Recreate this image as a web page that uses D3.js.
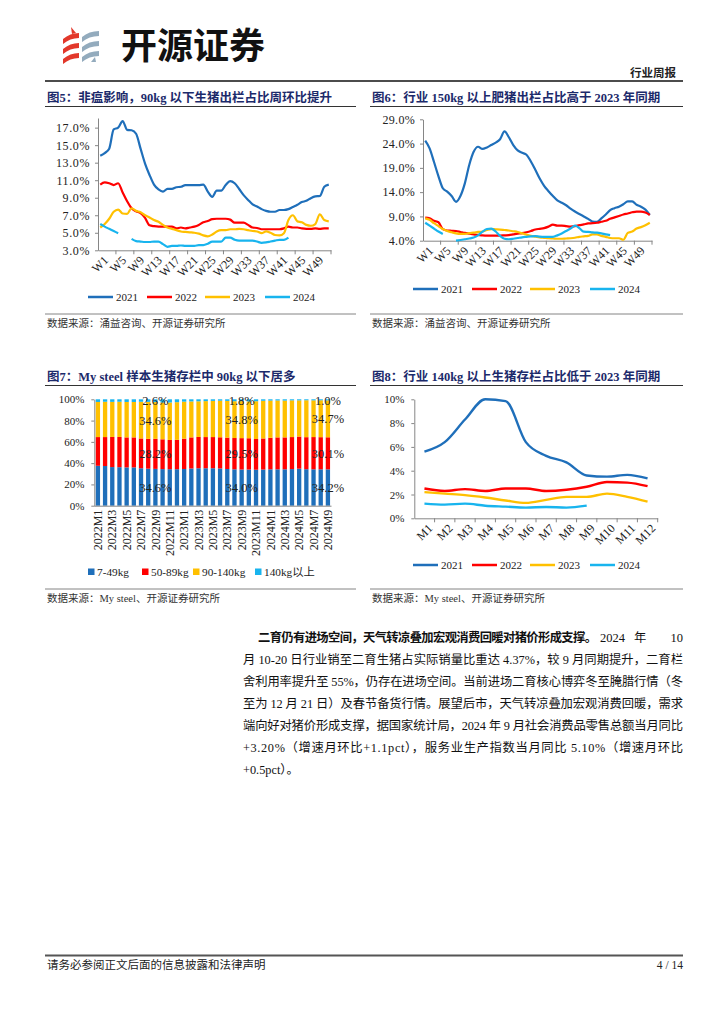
<!DOCTYPE html>
<html><head><meta charset="utf-8">
<script src="https://cdn.jsdelivr.net/npm/d3@7"></script>
<style>
body{margin:0;background:#fff;}
svg{display:block;}
</style></head><body>
<svg id="page" width="724" height="1024"></svg>
<script>
// ---------------- DATA ----------------
const seriesNames = ["2021","2022","2023","2024"];
const seriesColors = ["#1f6fba","#ff0000","#ffc000","#18b4ee"];
const weeks = d3.range(1,53).map(i => "W" + i);
const weekLabels = ["W1","W5","W9","W13","W17","W21","W25","W29","W33","W37","W41","W45","W49"];

// Fig 5: share of < 90kg hogs in slaughter (%)
const fig5_2021 = [13.8,14.1,14.6,16.8,17.0,17.75,16.75,16.7,16.3,14.6,12.9,11.6,10.5,9.95,9.7,10.0,10.0,10.2,10.25,10.45,10.45,10.45,10.45,10.5,9.7,9.1,9.8,9.8,10.45,10.9,10.65,10.0,9.3,8.75,8.25,8.0,7.7,7.5,7.4,7.4,7.6,7.6,7.7,7.95,8.2,8.5,8.65,8.95,9.15,9.2,10.25,10.5];
const fig5_2022 = [10.5,10.75,10.65,10.45,10.65,9.6,8.6,7.8,7.45,7.25,6.7,5.85,5.75,5.7,5.7,5.7,5.7,5.5,5.6,5.5,5.6,5.7,5.9,6.2,6.35,6.55,6.6,6.6,6.6,6.5,6.15,6.15,6.15,5.9,5.6,5.55,5.4,5.4,5.4,5.4,5.4,5.5,5.7,5.6,5.6,5.5,5.45,5.45,5.5,5.45,5.5,5.5];
const fig5_2023 = [5.6,6.0,6.6,7.4,7.65,7.2,7.15,7.8,7.5,7.35,7.0,6.75,6.45,6.25,5.9,5.6,5.45,5.3,5.15,5.1,5.05,5.0,4.9,4.7,4.6,4.8,5.15,5.3,5.3,5.4,5.4,5.45,5.4,5.3,5.2,5.15,4.95,5.15,5.0,4.75,4.7,4.95,6.45,7.0,6.3,6.2,5.9,5.8,6.0,7.1,6.45,6.3];
const fig5_2024 = [6.0,5.7,5.45,5.2,4.95,null,null,4.3,4.05,4.0,3.95,3.95,4.0,4.0,3.7,3.4,3.5,3.5,3.55,3.5,3.5,3.5,3.6,3.6,3.75,4.0,4.0,4.0,4.45,4.45,4.2,4.1,4.1,4.1,4.1,4.0,3.85,3.9,4.0,4.1,4.2,4.2,4.45,null,null,null,null,null,null,null,null,null];
const fig5_ticks = [3,5,7,9,11,13,15,17];

// Fig 6: share of > 150kg hogs in slaughter (%)
const fig6_2021 = [24.6,23.0,20.2,17.3,14.8,14.1,13.2,12.0,13.2,15.8,19.6,22.3,23.35,22.9,23.2,23.7,24.2,24.9,26.5,25.3,23.7,22.6,22.1,21.7,20.3,18.6,16.8,15.3,14.2,13.2,12.3,11.8,11.3,10.6,10.0,9.5,9.0,8.5,7.95,7.9,8.6,9.4,10.3,10.7,11.0,11.5,12.1,12.1,11.4,11.0,10.4,9.3];
const fig6_2022 = [8.75,8.6,8.1,7.8,6.4,6.1,6.05,6.0,5.8,5.6,5.45,5.3,5.2,5.1,5.05,5.05,5.05,5.05,5.1,5.15,5.3,5.45,5.55,5.75,6.0,6.3,6.45,6.6,6.9,7.3,7.1,7.1,7.0,6.9,7.0,7.2,7.35,7.55,7.6,7.7,7.9,8.1,8.5,8.8,9.1,9.4,9.6,9.85,10.0,10.0,9.8,9.3];
const fig6_2023 = [8.6,8.3,7.6,7.0,6.4,6.0,5.75,5.5,5.4,5.4,5.55,5.65,5.8,5.9,6.2,6.4,6.35,6.3,6.2,6.1,5.95,5.8,5.5,5.25,5.0,4.85,4.7,4.6,4.5,4.45,4.4,4.4,4.45,4.5,4.6,4.8,4.9,5.0,5.3,5.3,5.0,4.8,4.55,4.5,4.5,4.2,5.6,5.9,6.5,6.8,7.2,7.7];
const fig6_2024 = [7.7,7.1,6.5,5.9,5.4,null,null,4.0,4.15,4.3,4.45,4.65,5.1,5.85,6.4,6.5,5.9,5.0,4.4,4.3,4.4,4.55,4.7,4.8,4.9,4.95,4.85,4.8,4.8,4.8,5.1,5.5,6.0,6.5,7.1,6.6,5.85,5.8,5.7,5.65,5.5,5.3,5.15,null,null,null,null,null,null,null,null,null];
const fig6_ticks = [4,9,14,19,24,29];

// Fig 7: My steel sample inventory structure (%)
const fig7_months = ["2022M1","2022M2","2022M3","2022M4","2022M5","2022M6","2022M7","2022M8","2022M9","2022M10","2022M11","2022M12",
  "2023M1","2023M2","2023M3","2023M4","2023M5","2023M6","2023M7","2023M8","2023M9","2023M10","2023M11","2023M12",
  "2024M1","2024M2","2024M3","2024M4","2024M5","2024M6","2024M7","2024M8","2024M9"];
const fig7_keys = ["7-49kg","50-89kg","90-140kg","140kg以上"];
const fig7_colors = ["#1f6fba","#ff0000","#ffc000","#18b4ee"];
const fig7_w7_49   = [37.5,37.3,36.3,36.2,36.0,36.0,35.2,34.8,34.6,34.4,34.3,34.3,34.5,35.0,35.2,35.2,35.2,35.0,34.5,34.2,34.0,34.0,33.8,34.0,34.2,34.2,34.2,34.4,34.8,34.3,34.2,34.2,34.2];
const fig7_w50_89  = [27.0,27.2,28.3,28.4,28.2,28.2,28.0,28.0,28.2,28.0,27.5,27.6,28.5,29.2,29.4,29.3,29.3,29.3,29.5,29.4,29.5,29.4,28.9,29.2,29.6,30.0,30.0,30.1,30.2,30.1,30.3,30.2,30.1];
const fig7_w90_140 = [33.0,33.2,33.0,33.1,33.3,33.3,34.5,34.8,34.6,34.6,35.2,35.4,34.8,33.8,33.5,33.8,34.0,34.4,34.5,34.6,34.8,34.6,35.5,35.4,35.0,34.7,34.6,34.5,34.0,34.7,34.5,34.7,34.7];
const fig7_w140    = [2.5,2.3,2.4,2.3,2.5,2.5,2.3,2.4,2.6,3.0,3.0,2.7,2.2,2.0,1.9,1.7,1.5,1.3,1.5,1.8,1.8,2.0,1.8,1.4,1.2,1.1,1.2,1.0,1.0,0.9,1.0,0.9,1.0];
const fig7_labelMonths = ["2022M9","2023M9","2024M9"];
const fig7_ticks = [0,20,40,60,80,100];

// Fig 8: share of > 140kg hogs in inventory (%)
const months12 = ["M1","M2","M3","M4","M5","M6","M7","M8","M9","M10","M11","M12"];
const fig8_2021 = [5.6,6.4,8.3,10.0,9.85,6.4,5.25,4.7,3.6,3.5,3.65,3.35];
const fig8_2022 = [2.5,2.3,2.45,2.3,2.5,2.5,2.3,2.4,2.65,3.05,3.0,2.7];
const fig8_2023 = [2.2,2.07,1.95,1.75,1.5,1.3,1.55,1.8,1.8,2.07,1.8,1.4];
const fig8_2024 = [1.23,1.15,1.23,1.06,0.98,0.9,0.95,0.9,1.06];
const fig8_ticks = [0,2,4,6,8,10];

// ---------------- DRAWING ----------------
const svg = d3.select("#page");
const SERIF = '"Liberation Serif","Noto Sans CJK SC",serif';
const CJK = '"Noto Sans CJK SC","Liberation Serif",sans-serif';
const NAVY = "#1c2a6b";
const AXIS = "#868686";

// header
const logo = svg.append("g");
const red = "#e2382b", grey = "#93abbd";
[[0,0],[0,10],[0,20]].forEach(([dx,dy]) => {
  logo.append("path").attr("d", `M${63+dx},${39+dy} Q${70+dx},${33+dy} ${79+dx},${33+dy} L${79+dx},${38+dy} Q${70+dx},${38+dy} ${63+dx},${44+dy} Z`).attr("fill", red);
  logo.append("path").attr("d", `M${82+dx},${37+dy} Q${89+dx},${31+dy} ${99+dx},${31+dy} L${99+dx},${36+dy} Q${89+dx},${36+dy} ${82+dx},${42+dy} Z`).attr("fill", grey);
});
logo.append("path").attr("d","M71,27 L76,33 L72,34 Z").attr("fill",red);
logo.append("path").attr("d","M91,62 L95,57 L96,62 Z").attr("fill",grey);
svg.append("text").attr("x",121).attr("y",59).attr("font-family",CJK).attr("font-weight",700)
  .attr("font-size",36).attr("fill","#111").text("开源证券");
svg.append("text").attr("x",676).attr("y",77).attr("text-anchor","end").attr("font-family",CJK)
  .attr("font-weight",700).attr("font-size",11.5).attr("fill","#222").text("行业周报");
svg.append("line").attr("x1",45).attr("x2",683).attr("y1",81).attr("y2",81).attr("stroke","#111").attr("stroke-width",1.5);

function title(x, y, x2, txt){
  svg.append("text").attr("x",x).attr("y",y).attr("font-family",SERIF).attr("font-weight",700)
    .attr("font-size",12.5).attr("fill",NAVY).text(txt);
  svg.append("line").attr("x1",x-2).attr("x2",x2).attr("y1",y+4.5).attr("y2",y+4.5).attr("stroke","#333").attr("stroke-width",1);
}
function source(x, y, x2, txt){
  svg.append("line").attr("x1",x-2).attr("x2",x2).attr("y1",y-9).attr("y2",y-9).attr("stroke","#666").attr("stroke-width",0.8);
  svg.append("text").attr("x",x).attr("y",y+4).attr("font-family",SERIF).attr("font-size",10.5).attr("fill","#333").text(txt);
}

function styleAxis(sel){
  sel.select(".domain").attr("stroke",AXIS);
  sel.selectAll(".tick line").attr("stroke",AXIS);
  sel.selectAll("text").attr("font-family",SERIF).attr("fill","#222");
}

function lineChart(o){
  const g = svg.append("g");
  const x = d3.scaleBand().domain(o.cats).range([o.x0,o.x1]);
  const y = d3.scaleLinear().domain(o.yDomain).range([o.yBot,o.yTop]);
  const ya = g.append("g").attr("transform",`translate(${o.x0},0)`)
    .call(d3.axisLeft(y).tickValues(o.yTicks).tickFormat(o.yFmt).tickSize(3).tickSizeOuter(0).tickPadding(o.yPad));
  styleAxis(ya); ya.selectAll("text").attr("font-size",o.yfs).attr("letter-spacing",o.yls||0);
  const xa = g.append("g").attr("transform",`translate(0,${o.yBot})`)
    .call(d3.axisBottom(x).tickValues(o.labels).tickSize(0).tickSizeOuter(0));
  styleAxis(xa);
  xa.selectAll("text").attr("font-size",o.xfs).attr("text-anchor","end")
    .attr("transform","translate(2,4) rotate(-45)").attr("dy","0.55em");
  for(let k=o.every;k<=o.cats.length;k+=o.every){
    const xx = k<o.cats.length ? x(o.cats[k]) : x.range()[1];
    g.append("line").attr("x1",xx).attr("x2",xx).attr("y1",o.yBot).attr("y2",o.yBot+4).attr("stroke",AXIS);
  }
  const line = d3.line().defined(d=>d!=null).x((d,i)=>x(o.cats[i])+x.bandwidth()/2).y(d=>y(d)).curve(d3.curveMonotoneX);
  o.series.forEach((s,i)=>{
    g.append("path").datum(s).attr("d",line).attr("fill","none").attr("stroke",seriesColors[i])
      .attr("stroke-width",o.sw).attr("stroke-linejoin","round");
  });
  o.legendX.forEach((lx,i)=>{
    g.append("line").attr("x1",lx).attr("x2",lx+25).attr("y1",o.legendY).attr("y2",o.legendY)
      .attr("stroke",seriesColors[i]).attr("stroke-width",2.5);
    g.append("text").attr("x",lx+28).attr("y",o.legendY+3.8).attr("font-family",SERIF).attr("font-size",11)
      .attr("fill","#222").text(seriesNames[i]);
  });
}

// Fig 5
title(47, 102, 356, "图5：非瘟影响，90kg 以下生猪出栏占比周环比提升");
lineChart({cats:weeks, labels:weekLabels, every:4, x0:98, x1:331, yTop:118, yBot:250.3, yDomain:[3,18.1],
  yTicks:fig5_ticks, yFmt:d=>d.toFixed(1)+"%", yPad:5, yfs:12, yls:0.6, xfs:12, sw:2.2,
  series:[fig5_2021,fig5_2022,fig5_2023,fig5_2024], legendX:[88,147,205,265], legendY:297});
source(47, 323, 356, "数据来源：涌益咨询、开源证券研究所");

// Fig 6
title(372, 102, 683, "图6：行业 150kg 以上肥猪出栏占比高于 2023 年同期");
lineChart({cats:weeks, labels:weekLabels, every:4, x0:423, x1:652, yTop:119.3, yBot:240.7, yDomain:[4,29],
  yTicks:fig6_ticks, yFmt:d=>d.toFixed(1)+"%", yPad:5, yfs:12, yls:0.3, xfs:12, sw:2.2,
  series:[fig6_2021,fig6_2022,fig6_2023,fig6_2024], legendX:[413,472,530,590], legendY:289});
source(372, 323, 683, "数据来源：涌益咨询、开源证券研究所");

// Fig 7
title(47, 381, 356, "图7：My steel 样本生猪存栏中 90kg 以下居多");
(function(){
  const g = svg.append("g");
  const rows = fig7_months.map((m,i)=>({month:m,"7-49kg":fig7_w7_49[i],"50-89kg":fig7_w50_89[i],"90-140kg":fig7_w90_140[i],"140kg以上":fig7_w140[i]}));
  const stacked = d3.stack().keys(fig7_keys)(rows);
  const x = d3.scaleBand().domain(fig7_months).range([94.3,331.5]).paddingInner(0.4).paddingOuter(0.2);
  const y = d3.scaleLinear().domain([0,100]).range([505.7,399.3]);
  stacked.forEach((layer,li)=>{
    g.selectAll(null).data(layer).enter().append("rect")
      .attr("x",d=>x(d.data.month)).attr("width",x.bandwidth())
      .attr("y",d=>y(Math.min(d[1],100))).attr("height",d=>y(d[0])-y(Math.min(d[1],100)))
      .attr("fill",fig7_colors[li]);
  });
  const ya = g.append("g").attr("transform","translate(94.3,0)")
    .call(d3.axisLeft(y).tickValues(fig7_ticks).tickFormat(d=>d+"%").tickSize(3).tickSizeOuter(0).tickPadding(7));
  styleAxis(ya); ya.selectAll("text").attr("font-size",11);
  const xa = g.append("g").attr("transform","translate(0,505.7)")
    .call(d3.axisBottom(x).tickValues(fig7_months.filter((m,i)=>i%2===0)).tickSize(0).tickSizeOuter(0));
  xa.select(".domain").attr("d","M94.3,0.5H331.5");
  styleAxis(xa);
  xa.selectAll("text").attr("font-size",12).attr("text-anchor","end")
    .attr("transform","rotate(-90)").attr("x",-4).attr("y",0).attr("dy","0.35em");
  // data labels
  stacked.forEach(layer=>{
    layer.filter(d=>fig7_labelMonths.includes(d.data.month)).forEach(d=>{
      const v = d.data[layer.key];
      g.append("text").attr("x",x(d.data.month)+x.bandwidth()/2)
        .attr("y",y(Math.min((d[0]+d[1])/2, 99.2))).attr("dy","0.35em").attr("text-anchor","middle")
        .attr("font-family",SERIF).attr("font-size",12.5).attr("fill","#222").text(v.toFixed(1)+"%");
    });
  });
  const lx = [88,142,193,255];
  fig7_keys.forEach((k,i)=>{
    g.append("rect").attr("x",lx[i]).attr("y",568.5).attr("width",6.5).attr("height",6.5).attr("fill",fig7_colors[i]);
    g.append("text").attr("x",lx[i]+9).attr("y",575.5).attr("font-family",SERIF).attr("font-size",11.3).attr("fill","#222").text(k);
  });
})();
source(47, 598, 356, "数据来源：My steel、开源证券研究所");

// Fig 8
title(372, 381, 683, "图8：行业 140kg 以上生猪存栏占比低于 2023 年同期");
lineChart({cats:months12, labels:months12, every:1, x0:414.3, x1:657.7, yTop:399.3, yBot:518.3, yDomain:[0,10],
  yTicks:fig8_ticks, yFmt:d=>d+"%", yPad:7, yfs:11, xfs:12, sw:2.4,
  series:[fig8_2021,fig8_2022,fig8_2023,fig8_2024], legendX:[413,472,530,590], legendY:565});
source(372, 598, 683, "数据来源：My steel、开源证券研究所");

// paragraph
const pLines = [
  "月 10-20 日行业销至二育生猪占实际销量比重达 4.37%，较 9 月同期提升，二育栏",
  "舍利用率提升至 55%，仍存在进场空间。当前进场二育核心博弈冬至腌腊行情（冬",
  "至为 12 月 21 日）及春节备货行情。展望后市，天气转凉叠加宏观消费回暖，需求",
  "端向好对猪价形成支撑，据国家统计局，2024 年 9 月社会消费品零售总额当月同比",
  "+3.20%（增速月环比+1.1pct），服务业生产指数当月同比 5.10%（增速月环比"
];
svg.append("text").attr("x",258).attr("y",641.5).attr("font-family",CJK).attr("font-weight",700)
  .attr("font-size",12.3).attr("fill","#111").attr("textLength",339).attr("lengthAdjust","spacing")
  .text("二育仍有进场空间，天气转凉叠加宏观消费回暖对猪价形成支撑。");
svg.append("text").attr("x",600).attr("y",641.5).attr("font-family",SERIF).attr("font-size",12.5).attr("fill","#111").text("2024");
svg.append("text").attr("x",634).attr("y",641.5).attr("font-family",SERIF).attr("font-size",12.3).attr("fill","#111").text("年");
svg.append("text").attr("x",683).attr("y",641.5).attr("text-anchor","end").attr("font-family",SERIF).attr("font-size",12.5).attr("fill","#111").text("10");
pLines.forEach((t,i)=>{
  svg.append("text").attr("x",243).attr("y",663.5+22*i).attr("font-family",SERIF)
    .attr("font-size",12.3).attr("fill","#111").attr("textLength",440).attr("lengthAdjust","spacing").text(t);
});
svg.append("text").attr("x",243).attr("y",663.5+22*5).attr("font-family",SERIF)
  .attr("font-size",12.3).attr("fill","#111").text("+0.5pct）。");

// footer
svg.append("line").attr("x1",45).attr("x2",683).attr("y1",955.5).attr("y2",955.5).attr("stroke","#555").attr("stroke-width",2);
svg.append("text").attr("x",47).attr("y",969).attr("font-family",SERIF).attr("font-size",11.5).attr("fill","#222")
  .text("请务必参阅正文后面的信息披露和法律声明");
svg.append("text").attr("x",683).attr("y",969).attr("text-anchor","end").attr("font-family",SERIF).attr("font-size",11.5).attr("fill","#222")
  .text("4 / 14");
</script>
</body></html>
